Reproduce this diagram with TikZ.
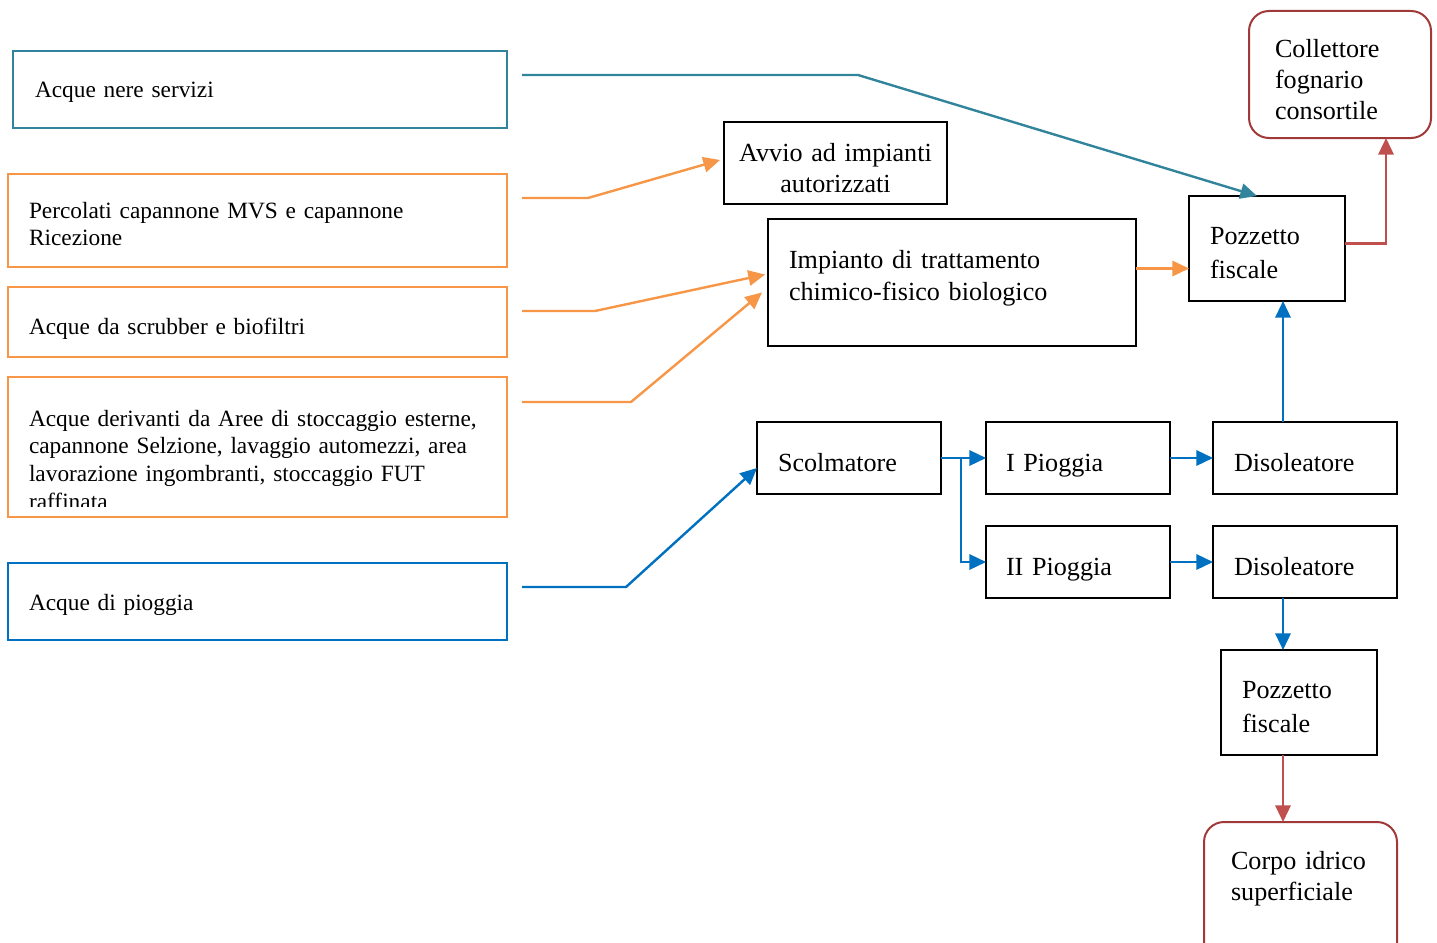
\documentclass[tikz,border=0pt]{standalone}
\usepackage{fontspec}
\setmainfont{Liberation Serif}
\usetikzlibrary{arrows.meta,calc}
\hyphenpenalty=10000
\exhyphenpenalty=10000

\definecolor{cteal}{RGB}{49,132,155}
\definecolor{corange}{RGB}{247,150,70}
\definecolor{cblue}{RGB}{0,112,192}
\definecolor{cred}{RGB}{192,80,77}
\definecolor{cdred}{RGB}{160,58,56}

\newcommand\fsleft{\fontsize{17.5pt}{20.75pt}\selectfont}

\tikzset{
  frame/.style={line width=1.5pt, anchor=north west, inner ysep=0pt, outer sep=0pt, align=left},
  lbox/.style={frame, draw, line width=1.75pt, font=\fsleft, inner xsep=15.75pt, text width=342.75pt},
  sbox/.style={frame, draw, font={\fontsize{19.6pt}{24pt}\selectfont}, inner xsep=15.75pt,
               text width=106.5pt, text height=36.75pt, text depth=17.25pt},
  pzbox/.style={frame, draw, font={\fontsize{19.6pt}{25.5pt}\selectfont}, inner xsep=15.75pt,
               text width=85.5pt, text height=36pt, text depth=42.75pt},
  endbox/.style={frame, draw=cdred, rounded corners=15pt},
  tip/.style={-{Triangle[length=12.5pt,width=11.5pt]}},
  tline/.style={tip, draw=cteal, line width=1.8pt},
  oline/.style={tip, draw=corange, line width=1.8pt},
  bline/.style={tip, draw=cblue, line width=1.8pt},
  rline/.style={tip, draw=cred, line width=1.8pt},
}

\begin{document}
\begin{tikzpicture}[x=0.75pt, y=-0.75pt]
\useasboundingbox (0,0) rectangle (1437,942);

% sources on the left
\node[lbox, draw=cteal, inner xsep=16.5pt, text width=337.5pt, text height=35.25pt, text depth=22.5pt]
  (b1) at (13,51) {Acque~nere~servizi};
\node[lbox, draw=corange, text height=33pt, text depth=36.75pt]
  (b2) at (8,174) {Percolati~capannone~MVS~e~capannone\\Ricezione};
\node[lbox, draw=corange, text height=35.25pt, text depth=17.25pt]
  (b3) at (8,287) {Acque~da~scrubber~e~biofiltri};
\begin{scope}
  \clip (0,0) rectangle (1437,506);
  \node[lbox, draw=none, text height=36.75pt, text depth=68.25pt]
    (b4) at (8,377) {Acque~derivanti~da~Aree~di~stoccaggio~esterne,\\
      capannone~Selzione,~lavaggio~automezzi,~area\\
      lavorazione~ingombranti,~stoccaggio~FUT\\raffinata};
\end{scope}
\draw[corange, line width=1.75pt] (b4.north west) rectangle (b4.south east);
\node[lbox, draw=cblue, text height=35.25pt, text depth=22.5pt]
  (b5) at (8,563) {Acque~di~pioggia};

% treatment and discharge
\node[frame, draw, align=center, font={\fontsize{19.6pt}{23.25pt}\selectfont}, inner xsep=7.5pt,
      text width=152.25pt, text height=29.25pt, text depth=32.25pt]
  (avvio) at (724,122) {Avvio~ad~impianti\\autorizzati};
\node[frame, draw, font={\fontsize{19.6pt}{24pt}\selectfont}, inner xsep=15.75pt,
      text width=244.5pt, text height=36.75pt, text depth=58.5pt]
  (imp) at (768,219) {Impianto~di~trattamento\\chimico-fisico~biologico};
\node[pzbox] (pz1) at (1189,196) {Pozzetto\\fiscale};
\node[endbox, font={\fontsize{19.6pt}{22.9pt}\selectfont}, inner xsep=19.5pt,
      text width=97.5pt, text height=35.25pt, text depth=60pt]
  (col) at (1249,11) {Collettore\\fognario\\consortile};

\node[sbox] (scol) at (757,422) {Scolmatore};
\node[sbox, inner xsep=15pt, text width=108pt] (p1) at (986,422) {I~Pioggia};
\node[sbox] (d1) at (1213,422) {Disoleatore};
\node[sbox, inner xsep=15pt, text width=108pt] (p2) at (986,526) {II~Pioggia};
\node[sbox] (d2) at (1213,526) {Disoleatore};
\node[pzbox] (pz2) at (1221,650) {Pozzetto\\fiscale};
\node[endbox, font={\fontsize{19.6pt}{23.25pt}\selectfont}, inner xsep=20.25pt,
      text width=104.25pt, text height=35.25pt, text depth=77.25pt]
  (corpo) at (1204,822) {Corpo~idrico\\superficiale};

% connectors
\coordinate (s1) at (522,75);
\coordinate (s2) at (522,198);
\coordinate (s3) at (522,311);
\coordinate (s4) at (522,402);
\coordinate (s5) at (522,587);

\draw[tline] (s1) -- (858,75) -- ($(pz1.north west)+(68,0)$);
\draw[oline] (s2) -- ++(66,0) -- ($(avvio.west)+(-4,-3)$);
\draw[oline] (s3) -- ++(73,0) -- ($(imp.west)+(-3,-8)$);
\draw[oline] (s4) -- ++(109,0) -- ($(imp.west)+(-6,10)$);
\draw[oline] ($(imp.east)+(0,-14)$) coordinate (o4) -- (o4 -| pz1.west);
\draw[bline] (s5) -- ++(104,0) -- ($(scol.west)+(0,10)$);

\draw[bline] (scol.east) -- (p1.west);
\draw[bline] ($(scol.east)!0.444!(p1.west)$) |- (p2.west);
\draw[bline] (p1.east) -- (d1.west);
\draw[bline] (p2.east) -- (d2.west);
\draw[bline] ($(d1.north)+(-22,0)$) coordinate (u1) -- (u1 |- pz1.south);
\draw[bline] ($(d2.south)+(-22,0)$) coordinate (u2) -- (u2 |- pz2.north);

\draw[rline] ($(pz1.east)+(0,-5)$) -| ($(col.south)+(46,0)$);
\draw[rline] ($(pz2.south)+(-16,0)$) coordinate (u3) -- (u3 |- corpo.north);
\end{tikzpicture}
\end{document}
